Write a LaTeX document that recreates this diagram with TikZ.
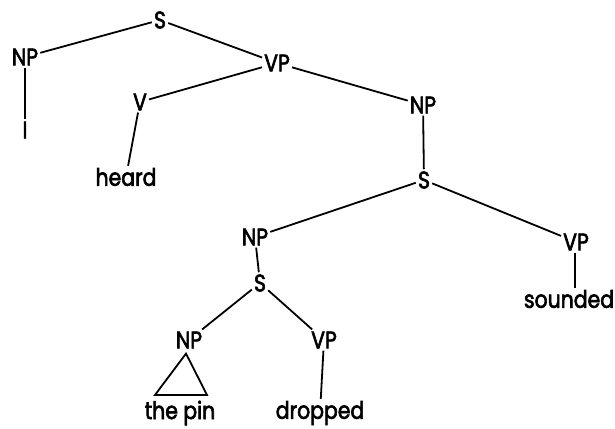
\documentclass[tikz,border=0pt]{standalone}
\usepackage{fontspec}
\setmainfont{Poppins}[FakeStretch=0.85, FakeBold=2.5]
\begin{document}
\begin{tikzpicture}[x=1pt,y=-1pt,
  lab/.style={font=\fontsize{24}{28}\selectfont, inner sep=2pt},
  edge/.style={line width=1.8pt}]
\useasboundingbox (0,0) rectangle (615,428);
% categories and words
\node[lab] (S)   at (160,20)  {S};
\node[lab] (NP1) at (25,57)   {NP};
\node[lab] (I)   at (25,130)  {I};
\node[lab] (VP1) at (277,63)  {VP};
\node[lab] (V)   at (140,102) {V};
\node[lab] (heard) at (126,177) {heard};
\node[lab] (NP2) at (423,105) {NP};
\node[lab] (S2)  at (424,180) {S};
\node[lab] (NP3) at (255,237) {NP};
\node[lab] (VP2) at (576,242) {VP};
\node[lab] (sounded) at (569,299) {sounded};
\node[lab] (S3)  at (260,283) {S};
\node[lab] (NP4) at (189,340) {NP};
\node[lab] (VP3) at (324,340) {VP};
\node[lab] (pin) at (180,413) {the pin};
\node[lab] (dropped) at (320,413) {dropped};
% branches
\draw[edge] (S) -- (NP1);
\draw[edge] (S) -- (VP1);
\draw[edge] (NP1) -- (I);
\draw[edge] (VP1) -- (V);
\draw[edge] (V) -- (heard);
\draw[edge] (VP1) -- (NP2);
\draw[edge] (NP2) -- (S2);
\draw[edge] (S2) -- (NP3);
\draw[edge] (S2) -- (VP2);
\draw[edge] (VP2.south -| 575,0) -- (sounded.north -| 575,0);
\draw[edge] (NP3) -- (S3);
\draw[edge] (S3) -- (NP4);
\draw[edge] (S3) -- (VP3);
\draw[edge] (VP3) -- (dropped);
% unanalysed constituent
\coordinate (tl) at (155,395);
\coordinate (tr) at (207,395);
\draw[edge, line join=miter] (NP4.south -| 186,0) ++(0,3) coordinate (apex) -- (tr) -- (tl) -- cycle;
\end{tikzpicture}
\end{document}
